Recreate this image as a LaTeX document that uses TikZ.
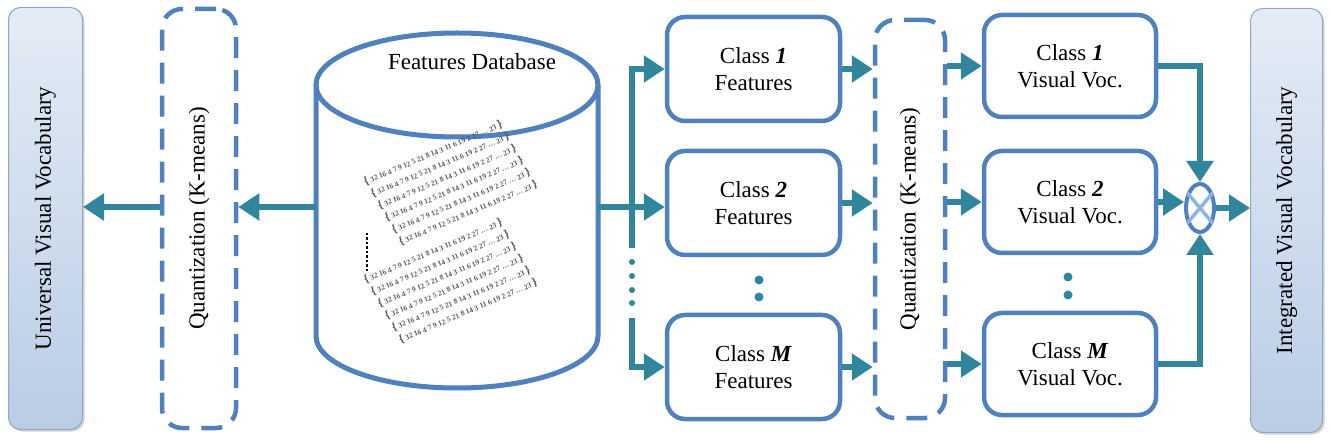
\documentclass[tikz,border=0pt]{standalone}
\usepackage{fontspec}
\setmainfont{Liberation Serif}
\usepackage{xcolor}
\usepackage{tikz}
\usetikzlibrary{positioning,arrows.meta,shapes.geometric,shadows}
\definecolor{boxblue}{HTML}{4F81BD}
\definecolor{flowteal}{HTML}{31859C}
\definecolor{crossblue}{HTML}{8DB3E2}
\definecolor{vocedge}{HTML}{8EA8C8}
\definecolor{voctop}{HTML}{E4ECF6}
\definecolor{vocbot}{HTML}{B9CDE5}
\newcommand{\boxfont}{\fontsize{23}{27}\selectfont}
\newcommand{\digitfont}{\fontsize{7.5}{8}\selectfont\bfseries}

\begin{document}
\begin{tikzpicture}[x=1pt, y=-1pt,
  clsbox/.style={draw=boxblue, line width=4.5pt, rounded corners=18pt, fill=white, minimum width=173pt, minimum height=104pt, align=center, inner sep=0pt, font=\boxfont},
  qbox/.style={draw=boxblue, line width=4.5pt, dash pattern=on 21pt off 12pt, rounded corners=20pt, inner sep=0pt},
  vocbox/.style={draw=vocedge, line width=1pt, rounded corners=12pt, top color=voctop, bottom color=vocbot, inner sep=0pt, drop shadow={opacity=0.35, shadow xshift=2pt, shadow yshift=-2pt}},
  sidetext/.style={rotate=90, font=\boxfont, inner sep=0pt},
  flow/.style={draw=flowteal, line width=6pt, -{Triangle[length=21pt,width=26pt]}},
  flowline/.style={draw=flowteal, line width=6pt},
  digits/.style={anchor=west, rotate=23, text=black!65, font=\digitfont, inner sep=0pt},
  dbline/.style={draw=boxblue, line width=5pt}
]
\useasboundingbox (0,0) rectangle (1332,443);

\node[vocbox, minimum width=74pt, minimum height=422pt] (uvv) at (45.5,218.5) {};
\node[sidetext] (uvvtext) at (uvv.center) {Universal Visual Vocabulary};
\node[qbox, minimum width=74pt, minimum height=419pt] (qz1) at (199,218.5) {};
\node[sidetext] (qz1text) at (qz1.center) {Quantization (K-means)};

\draw[dbline] (316,85) -- (316,336) arc[start angle=180, end angle=0, x radius=141, y radius=52] -- (598,85);
\draw[dbline] (457,85) ellipse[x radius=141, y radius=52];
\node[font=\boxfont, inner sep=0pt] (dbtitle) at (472,62) {Features Database};
\node[minimum width=282pt, minimum height=10pt, inner sep=0pt] (db) at (457,207) {};
\foreach \g in {0,1}{
  \foreach \r in {0,...,5}{
    \node[digits] (row\g\r) at (364+7*\r, 182+12*\r+98*\g) {{\large\{} 32 16 4 7 9 12 5 21 8 14 3 11 6 19 2 27 \dots\ 23 {\large\}}};
  }
}
\draw[dotted, line width=2.5pt] (367,233) -- (367,273);

\node[clsbox] (f1) at (753.5,69) {Class \textbf{\textit{1}}\\Features};
\node[clsbox] (f2) at (753.5,203) {Class \textbf{\textit{2}}\\Features};
\node[clsbox] (fM) at (753.5,367) {Class \textbf{\textit{M}}\\Features};
\node[qbox, minimum width=70pt, minimum height=398pt] (qz2) at (910,219) {};
\node[sidetext] (qz2text) at (qz2.center) {Quantization (K-means)};
\node[clsbox, minimum width=172pt, minimum height=102pt] (v1) at (1070,66) {Class \textbf{\textit{1}}\\Visual Voc.};
\node[clsbox, minimum width=172pt, minimum height=102pt] (v2) at (1070,202) {Class \textbf{\textit{2}}\\Visual Voc.};
\node[clsbox, minimum width=172pt, minimum height=102pt] (vM) at (1070,364) {Class \textbf{\textit{M}}\\Visual Voc.};
\node[ellipse, draw=boxblue, line width=4pt, fill=white, minimum width=28pt, minimum height=48pt, inner sep=0pt] (ot) at (1200,208) {};
\draw[crossblue, line width=3.5pt] (ot.50) -- (ot.230) (ot.130) -- (ot.310);
\node[vocbox, minimum width=72pt, minimum height=424pt] (ivv) at (1286.5,220.5) {};
\node[sidetext] (ivvtext) at (ivv.center) {Integrated Visual Vocabulary};

\coordinate (split) at (632,207);
\coordinate (trunkend) at (632,248);
\coordinate (trunkgap) at (632,318);

\draw[flow] (db.west) -- (db.west -| qz1.east);
\draw[flow] (qz1.west |- db.west) -- (uvv.east |- db.west);
\draw[flowline] (db.east) -- (split);
\draw[flow] (split) |- (f1.west);
\draw[flow] (split) -- (split -| f2.west);
\draw[flowline] (split) -- (trunkend);
\foreach \d in {262,276,290,303} \fill[flowteal] (632,\d) circle (3);
\draw[flow] (trunkgap) |- (fM.west);
\fill[flowteal] (759,280) circle (4.5) (759,297) circle (4.5);

\draw[flow] (f1.east) -- (f1.east -| qz2.west);
\draw[flow] (f2.east) -- (f2.east -| qz2.west);
\draw[flow] (fM.east) -- (fM.east -| qz2.west);
\draw[flow] (qz2.east |- v1.west) -- (v1.west);
\draw[flow] (qz2.east |- v2.west) -- (v2.west);
\draw[flow] (qz2.east |- vM.west) -- (vM.west);
\fill[flowteal] (1068,277) circle (4.5) (1068,295) circle (4.5);

\draw[flow] (v1.east) -| (ot.north);
\draw[flow] (v2.east) -- (v2.east -| ot.west);
\draw[flow] (vM.east) -| (ot.south);
\draw[flow] (ot.east |- ot.center) -- (ivv.west |- ot.center);
\end{tikzpicture}
\end{document}
